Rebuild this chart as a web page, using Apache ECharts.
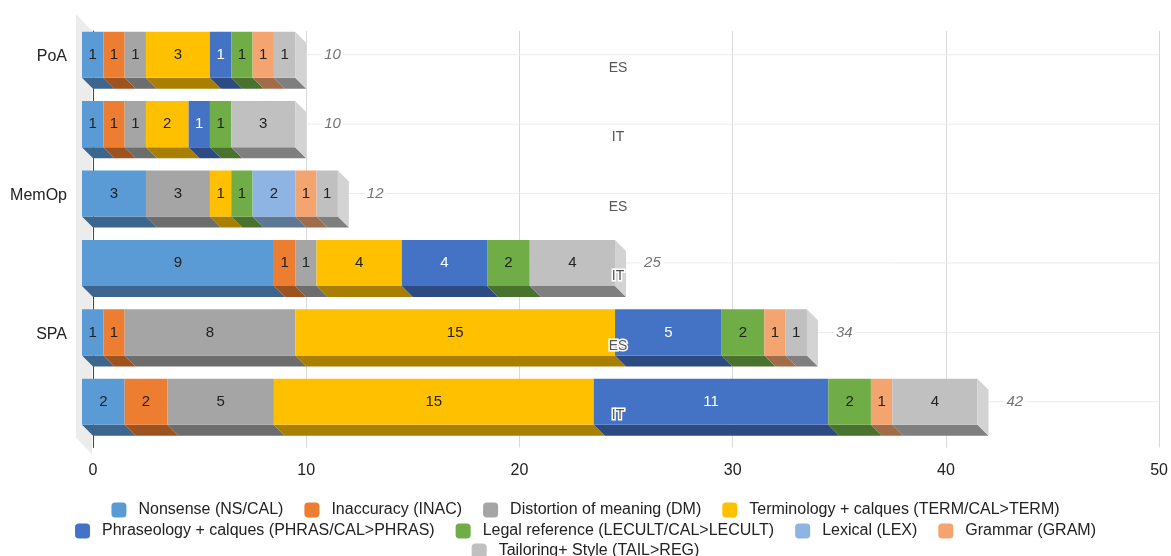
<!DOCTYPE html>
<html>
<head>
<meta charset="utf-8">
<script src="https://cdn.jsdelivr.net/npm/echarts@6/dist/echarts.min.js"></script>
<style>
  html, body { margin: 0; padding: 0; background: #fff; }
  #chart { width: 1171px; height: 556px; }
</style>
</head>
<body>
<div id="chart"></div>
<script>
// row labels (y axis) and the ES / IT sub labels
const rowLabels = ['PoA', '', 'MemOp', '', 'SPA', '']
const subLabels = ['ES', 'IT', 'ES', 'IT', 'ES', 'IT']
const xTicks = [0, 10, 20, 30, 40, 50]

// error counts per row, top to bottom
const nonsense    = [1, 1, 3, 9, 1, 2]
const inaccuracy  = [1, 1, 0, 1, 1, 2]
const distortion  = [1, 1, 3, 1, 8, 5]
const terminology = [3, 2, 1, 4, 15, 15]
const phraseology = [1, 1, 0, 4, 5, 11]
const legalRef    = [1, 1, 1, 2, 2, 2]
const lexical     = [0, 0, 2, 0, 0, 0]
const grammar     = [1, 0, 1, 0, 1, 1]
const tailoring   = [1, 3, 1, 4, 1, 4]

const FONT = 'Arial, "Liberation Sans", sans-serif'
const DEPTH = 11      // 3d offset in px
const BAR_RATIO = 0.663

const seriesDefs = [
  { name: 'Nonsense (NS/CAL)', values: nonsense, color: '#5b9bd5' },
  { name: 'Inaccuracy (INAC)', values: inaccuracy, color: '#ed7d31' },
  { name: 'Distortion of meaning (DM)', values: distortion, color: '#a5a5a5' },
  { name: 'Terminology + calques (TERM/CAL>TERM)', values: terminology, color: '#ffc000' },
  { name: 'Phraseology + calques (PHRAS/CAL>PHRAS)', values: phraseology, color: '#4472c4', textColor: '#fff' },
  { name: 'Legal reference (LECULT/CAL>LECULT)', values: legalRef, color: '#70ad47' },
  { name: 'Lexical (LEX)', values: lexical, color: '#8db4e2' },
  { name: 'Grammar (GRAM)', values: grammar, color: '#f3a46f' },
  { name: 'Tailoring+ Style (TAIL>REG)', values: tailoring, color: '#c0c0c0' }
]

function darken(hex, f) {
  const n = parseInt(hex.slice(1), 16)
  const r = Math.round(((n >> 16) & 255) * f)
  const g = Math.round(((n >> 8) & 255) * f)
  const b = Math.round((n & 255) * f)
  return 'rgb(' + r + ',' + g + ',' + b + ')'
}

// stacking
const offsets = rowLabels.map(() => 0)
const barSeries = seriesDefs.map(def => {
  const data = []
  def.values.forEach((v, row) => {
    if (v > 0) data.push([row, offsets[row], offsets[row] + v, v])
    offsets[row] += v
  })
  const dark = darken(def.color, 0.66)
  return {
    name: def.name,
    type: 'custom',
    z: 2,
    itemStyle: { color: def.color },
    encode: { x: [1, 2], y: 0 },
    data: data,
    renderItem: function (params, api) {
      const row = api.value(0)
      const p0 = api.coord([api.value(1), row])
      const p1 = api.coord([api.value(2), row])
      const h = api.size([0, 1])[1] * BAR_RATIO
      const yb0 = p0[1] - h / 2, yb1 = p0[1] + h / 2
      const d = DEPTH
      return {
        type: 'group',
        children: [
          {
            type: 'polygon',
            shape: { points: [[p0[0] - d, yb1 - d], [p1[0] - d, yb1 - d], [p1[0], yb1], [p0[0], yb1]] },
            style: { fill: dark }
          },
          {
            type: 'rect',
            shape: { x: p0[0] - d, y: yb0 - d, width: p1[0] - p0[0], height: h },
            style: { fill: def.color }
          },
          {
            type: 'text',
            x: (p0[0] + p1[0]) / 2 - d,
            y: p0[1] - d,
            style: {
              text: String(api.value(3)), align: 'center', verticalAlign: 'middle',
              fill: def.textColor || '#222', fontSize: 15, fontFamily: FONT
            }
          }
        ]
      }
    }
  }
})

const totals = offsets.map((t, row) => [row, t])

const option = {
  animation: false,
  backgroundColor: '#fff',
  grid: { left: 93, right: 11, top: 31, height: 416.5 },
  xAxis: {
    type: 'value', min: xTicks[0], max: xTicks[xTicks.length - 1], interval: 10,
    axisLine: { show: false }, axisTick: { show: false },
    splitLine: { lineStyle: { color: '#d9d9d9', width: 1 } },
    axisLabel: { color: '#222', fontSize: 16, fontFamily: FONT, margin: 15 }
  },
  yAxis: [
    {
      type: 'category', inverse: true, data: rowLabels,
      axisLine: { show: true, lineStyle: { color: '#444', width: 1 } },
      axisTick: { show: false },
      axisLabel: {
        color: '#222', fontSize: 16, fontFamily: FONT, margin: 26,
        verticalAlign: 'bottom', lineHeight: 18
      }
    },
    {
      type: 'category', inverse: true, data: subLabels, position: 'left', z: 10,
      axisLine: { show: false }, axisTick: { show: false }, splitLine: { show: false },
      axisLabel: {
        color: '#555', fontSize: 14, fontFamily: FONT, margin: -525, align: 'center',
        textBorderColor: '#fff', textBorderWidth: 3,
        verticalAlign: 'top', lineHeight: 5
      }
    }
  ],
  legend: [
    { top: 497, data: seriesDefs.slice(0, 4).map(s => s.name) },
    { top: 518, data: seriesDefs.slice(4, 8).map(s => s.name) },
    { top: 538, data: seriesDefs.slice(8).map(s => s.name) }
  ].map(l => Object.assign(l, {
    left: 'center', icon: 'roundRect', itemWidth: 15, itemHeight: 15, itemGap: 21,
    textStyle: { color: '#222', fontSize: 16, fontFamily: FONT, padding: [0, 0, 0, 7] }
  })),
  series: [
    {
      // back wall + row guide lines
      name: 'frame', type: 'custom', z: 1, silent: true,
      encode: { x: 1, y: 0 },
      data: totals,
      renderItem: function (params, api) {
        const cs = params.coordSys
        const cy = api.coord([0, api.value(0)])[1] - DEPTH
        const children = [{
          type: 'line',
          shape: { x1: cs.x, y1: cy, x2: cs.x + cs.width, y2: cy },
          style: { stroke: '#ececec', lineWidth: 1 }
        }]
        if (params.dataIndex === 0) {
          const w = 17
          children.push({
            type: 'polygon',
            shape: { points: [[cs.x - w, cs.y - w], [cs.x - 1, cs.y], [cs.x - 1, cs.y + cs.height + 7], [cs.x - w, cs.y + cs.height + 7 - w]] },
            style: { fill: '#ececec' }
          })
        }
        return { type: 'group', children: children }
      }
    },
    ...barSeries,
    {
      // end caps + totals
      name: 'totals', type: 'custom', z: 2, silent: true,
      encode: { x: 1, y: 0 },
      data: totals,
      renderItem: function (params, api) {
        const row = api.value(0)
        const p = api.coord([api.value(1), row])
        const h = api.size([0, 1])[1] * BAR_RATIO
        const yb0 = p[1] - h / 2, yb1 = p[1] + h / 2
        const d = DEPTH
        return {
          type: 'group',
          children: [
            {
              type: 'polygon',
              shape: { points: [[p[0] - d, yb0 - d], [p[0], yb0], [p[0], yb1], [p[0] - d, yb1 - d]] },
              style: { fill: '#d3d3d3' }
            },
            {
              type: 'text', x: p[0] + 16, y: p[1] - d,
              style: {
                text: String(api.value(1)), align: 'left', verticalAlign: 'middle',
                fill: '#757575', fontSize: 15, fontStyle: 'italic', fontFamily: FONT,
                backgroundColor: '#fff', padding: [0, 2]
              }
            }
          ]
        }
      }
    }
  ]
}

const chart = echarts.init(document.getElementById('chart'))
chart.setOption(option)
</script>
</body>
</html>
